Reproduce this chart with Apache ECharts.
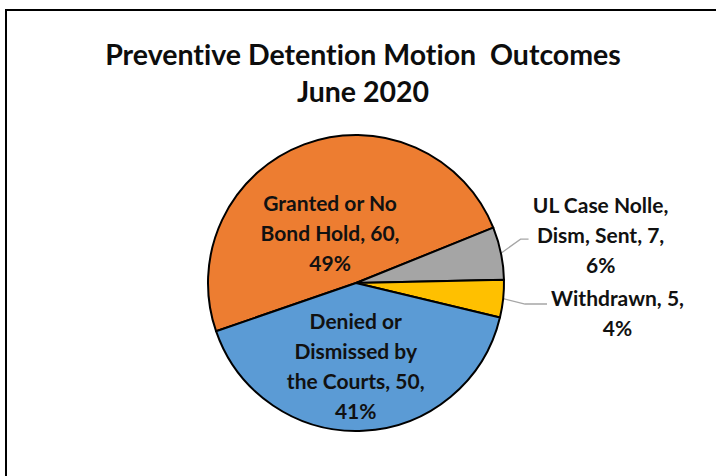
<!DOCTYPE html>
<html>
<head>
<meta charset="utf-8">
<script src="https://cdn.jsdelivr.net/npm/echarts@6/dist/echarts.min.js"></script>
<style>
  html, body { margin: 0; padding: 0; background: #ffffff; }
  #wrap { position: relative; width: 716px; height: 476px; overflow: hidden; }
  #frame { position: absolute; left: 5px; top: 9px; right: -10px; bottom: -10px;
           border-left: 2px solid #000; border-top: 2px solid #000; pointer-events: none; }
  #chart { position: absolute; left: 0; top: 0; width: 716px; height: 476px; }
  #chart text { font-variant-ligatures: none; }
</style>
</head>
<body>
<div id="wrap">
  <div id="chart"></div>
  <div id="frame"></div>
</div>
<script>
// Chart title, two lines
const titleLines = ['Preventive Detention Motion  Outcomes', 'June 2020'];

// Motion outcomes (wrapped names as shown in the labels)
const categories = [
  'Granted or No\nBond Hold',
  'UL Case Nolle,\nDism, Sent',
  'Withdrawn',
  'Denied or\nDismissed by\nthe Courts'
];
const counts = [60, 7, 5, 50];

const sliceColors = ['#ED7D31', '#A5A5A5', '#FFC000', '#5B9BD5'];
const outsideLabel = [false, true, true, false];
// leader line lengths for the outside labels [length, length2]
const leaderLengths = [[0, 0], [20, 8], [22, 22]];
// small label nudges [dx, dy], and vertical shift of the leader elbow
const labelNudge = [[1, 22], [0, -15], [0, 11], [-4, 6]];
const elbowShift = [0, -10, 3, 0];

const FONT = 'Lato, "Open Sans", "DejaVu Sans", sans-serif';

const chart = echarts.init(document.getElementById('chart'), null, { renderer: 'svg' });

const data = categories.map((name, i) => ({
  name: name,
  value: counts[i],
  itemStyle: { color: sliceColors[i] },
  label: { position: outsideLabel[i] ? 'outside' : 'inside' },
  labelLine: outsideLabel[i]
    ? { show: true, length: leaderLengths[i][0], length2: leaderLengths[i][1] }
    : { show: false }
}));

chart.setOption({
  animation: false,
  backgroundColor: '#ffffff',
  title: {
    text: titleLines.join('\n'),
    left: 358,
    top: 30,
    textAlign: 'center',
    textStyle: {
      fontFamily: FONT,
      fontWeight: 'bold',
      fontSize: 28.5,
      lineHeight: 37,
      color: '#0d0d0d'
    }
  },
  series: [{
    type: 'pie',
    center: [356, 283],
    radius: 148,
    startAngle: 199,
    clockwise: true,
    percentPrecision: 0,
    avoidLabelOverlap: false,
    silent: true,
    itemStyle: { borderColor: '#000000', borderWidth: 2 },
    label: {
      show: true,
      distanceToLabelLine: 4,
      formatter: p => (p.name + ', ' + p.value + ',\n' + p.percent + '%')
        .split('\n').map(line => '{t|' + line + '}').join('\n'),
      rich: {
        t: {
          align: 'center',
          fontFamily: FONT,
          fontWeight: 'bold',
          fontSize: 21,
          lineHeight: 30,
          color: '#111111'
        }
      }
    },
    labelLine: { lineStyle: { color: '#a6a6a6', width: 1.3 } },
    labelLayout: p => {
      const i = p.dataIndex;
      const out = { dx: labelNudge[i][0], dy: labelNudge[i][1] };
      const pts = p.labelLinePoints;
      if (outsideLabel[i] && pts && pts.length === 3) {
        out.labelLinePoints = [
          [pts[0][0], pts[0][1]],
          [pts[1][0], pts[1][1] + elbowShift[i]],
          [pts[2][0], pts[2][1] + elbowShift[i]]
        ];
      }
      return out;
    },
    data: data
  }]
});
</script>
</body>
</html>
